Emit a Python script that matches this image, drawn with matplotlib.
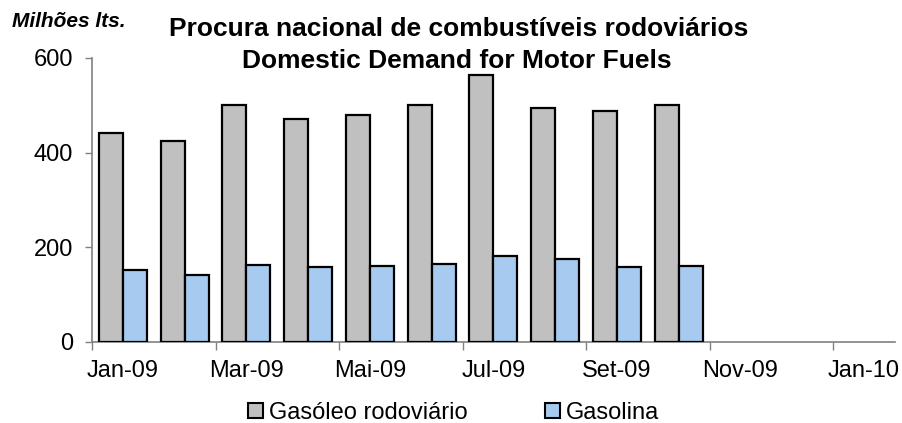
import matplotlib
matplotlib.use("Agg")
import matplotlib.pyplot as plt
from matplotlib.patches import Rectangle
from matplotlib.ticker import FixedLocator, NullFormatter

plt.rcParams['font.family'] = ['Liberation Sans', 'DejaVu Sans']

months = ["Jan-09", "Fev-09", "Mar-09", "Abr-09", "Mai-09", "Jun-09", "Jul-09",
          "Ago-09", "Set-09", "Out-09", "Nov-09", "Dez-09", "Jan-10"]
gasoleo = [442, 424, 501, 470, 480, 501, 563, 495, 487, 501]
gasolina = [151, 141, 162, 158, 160, 164, 181, 175, 158, 160]
series_names = ["Gasóleo rodoviário", "Gasolina"]
title_pt = "Procura nacional de combustíveis rodoviários"
title_en = "Domestic Demand for Motor Fuels"
unit_label = "Milhões lts."

c_gray = "#C0C0C0"
c_blue = "#A6CAF0"
fs = 17

fig = plt.figure(figsize=(9.02, 4.23), dpi=100)
ax = fig.add_axes([0.102, 0.192, 0.890, 0.671])

w = 0.39
xg = [i + 0.5 - w / 2 for i in range(len(gasoleo))]
xb = [i + 0.5 + w / 2 for i in range(len(gasolina))]
ax.bar(xg, gasoleo, width=w, color=c_gray, edgecolor="black", linewidth=1.6, zorder=3)
ax.bar(xb, gasolina, width=w, color=c_blue, edgecolor="black", linewidth=1.6, zorder=3)

ax.set_xlim(0, len(months))
ax.set_ylim(0, 600)
ax.set_yticks([0, 200, 400, 600])

ax.xaxis.set_major_locator(FixedLocator(list(range(0, len(months), 2))))
ax.xaxis.set_major_formatter(NullFormatter())
ax.set_xticks([i + 0.5 for i in range(0, len(months), 2)], minor=True)
ax.set_xticklabels([months[i] for i in range(0, len(months), 2)], minor=True)
ax.tick_params(axis='x', which='minor', length=0, labelsize=fs, pad=13)
ax.tick_params(axis='x', which='major', length=5.5, color="#808080", width=1)
ax.tick_params(axis='y', length=5, color="#808080", width=1, labelsize=fs, pad=8.5)

for s in ["top", "right"]:
    ax.spines[s].set_visible(False)
for s in ["left", "bottom"]:
    ax.spines[s].set_color("#808080")
    ax.spines[s].set_linewidth(1.2)

fig.text(0.508, 1 - 35.7 / 423, title_pt, ha="center", va="baseline", fontsize=19,
         fontweight="bold")
fig.text(0.506, 1 - 68.3 / 423, title_en, ha="center", va="baseline", fontsize=19,
         fontweight="bold")
fig.text(0.013, 1 - 27 / 423, unit_label, ha="left", va="baseline", fontsize=15,
         fontweight="bold", fontstyle="italic")

handles = [Rectangle((0, 0), 1, 1, facecolor=c_gray, edgecolor="black", linewidth=1.5),
           Rectangle((0, 0), 1, 1, facecolor=c_blue, edgecolor="black", linewidth=1.5)]
fig.legend(handles, series_names, loc="center", bbox_to_anchor=(0.503, 1 - 413 / 423),
           ncol=2, frameon=False, fontsize=fs, handlelength=0.62, handleheight=0.62,
           handletextpad=0.25, columnspacing=3.3, borderpad=0)

fig.savefig("out.png", dpi=100)
